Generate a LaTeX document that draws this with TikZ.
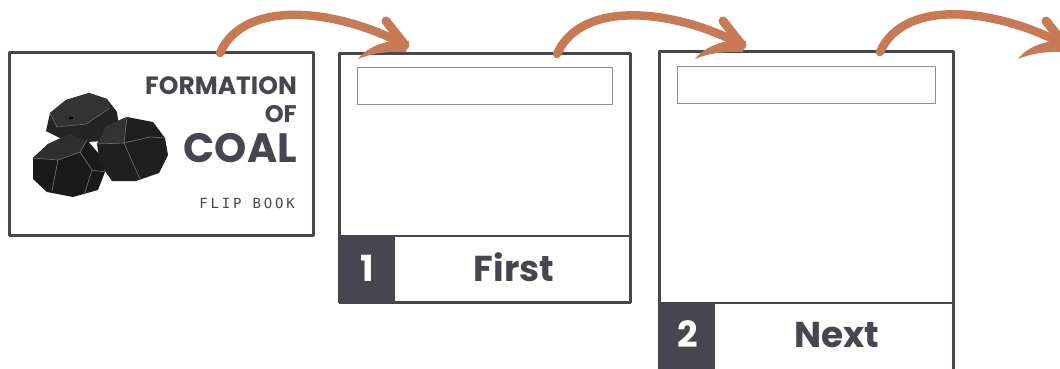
\documentclass[tikz,border=0pt]{standalone}
\usepackage{fontspec}
\setmainfont{Poppins}
\newfontfamily\flipmono{DejaVu Sans Mono}[LetterSpace=20]
\usetikzlibrary{calc}
\definecolor{slate}{HTML}{47454F}
\definecolor{clay}{HTML}{C87A55}
\definecolor{fieldgray}{HTML}{8E8D94}
\begin{document}
\begin{tikzpicture}[x=1pt, y=-1pt, line join=round, line cap=round,
	card/.style={draw=slate, line width=3pt, fill=white, anchor=north west, inner sep=0pt, outer sep=0pt},
	field/.style={draw=fieldgray, line width=1pt, anchor=north west, inner sep=0pt, outer sep=0pt},
	numbox/.style={fill=slate, anchor=north west, inner sep=0pt, outer sep=0pt, minimum width=56},
	digit/.style={text=white, anchor=base, inner sep=0pt, font=\fontsize{36}{36}\selectfont\bfseries},
	caption/.style={text=slate, anchor=base, inner sep=0pt, font=\fontsize{36}{36}\selectfont\bfseries},
	title/.style={text=slate, anchor=base east, inner sep=0pt},
	brush/.style={draw=clay, line width=8.5pt, line cap=round},
	lump/.style={draw=none}]
		%	\draw[color=gray!40,dashed] (0,0) grid[step=20] (1060,369);
		\useasboundingbox (0,0) rectangle (1060,369);
		\node[card, minimum width=304, minimum height=182] (cover) at (9,53) {};
		\node[card, minimum width=291, minimum height=248] (card1) at (339,54) {};
		\node[card, minimum width=294, minimum height=330] (card2) at (659,52) {};
		\node[field, minimum width=255, minimum height=36] (field1) at (357,68) {};
		\node[field, minimum width=258, minimum height=36] (field2) at (677,67) {};
		\node[numbox, minimum height=66] (num1) at (339,236) {};
		\node[numbox, minimum height=72] (num2) at (659,303) {};
		\draw[slate, line width=2.5pt] (num1.north west) -- (num1.north west -| card1.east);
		\draw[slate, line width=2.5pt] (num2.north west) -- (num2.north west -| card2.east);
		\node[digit] (d1) at (367,281) {1};
		\node[digit] (d2) at (688,347) {2};
		\node[caption] (first) at (514,281) {First};
		\node[caption] (next) at (837,347) {Next};
		\node[title, font=\fontsize{25}{25}\selectfont\bfseries] (formation) at (297,95) {FORMATION};
		\node[title, font=\fontsize{24}{24}\selectfont\bfseries] (of) at (297,122) {OF};
		\node[title, font=\fontsize{41}{41}\selectfont\bfseries] (coal) at (297,162) {COAL};
		\node[title, font=\fontsize{14}{14}\flipmono] (flip) at (295,208) {FLIP BOOK};
		\fill[lump, black!86] (46,131)--(50,113)--(66,100)--(89,93)--(107,99)--(117,112)--(119,127)--(104,141)--(70,143)--cycle;
		\fill[lump, black!80] (50,113)--(66,100)--(89,93)--(107,99)--(110,108)--(86,124)--(57,127)--cycle;
		\draw[black!62, line width=0.7pt] (50,113)--(57,127)--(86,124)--(110,108);
		\fill[black] (71,118) ellipse (2.2 and 1.2);
		\fill[lump, black!90] (33,158)--(48,144)--(70,134)--(87,140)--(99,154)--(105,172)--(98,190)--(73,197)--(47,192)--(33,179)--cycle;
		\fill[lump, black!82] (33,158)--(48,144)--(70,134)--(87,140)--(80,152)--(58,160)--cycle;
		\draw[black!58, line width=0.7pt] (33,158)--(58,160)--(80,152)--(87,140) (80,152)--(92,170)--(105,172) (92,170)--(84,195) (58,160)--(52,191);
		\fill[lump, black!88] (97,144)--(106,126)--(127,117)--(153,122)--(165,138)--(168,155)--(159,173)--(136,181)--(112,181)--(100,164)--cycle;
		\fill[lump, black!80] (97,144)--(106,126)--(127,117)--(124,143)--cycle;
		\draw[black!58, line width=0.7pt] (97,144)--(124,143)--(127,117) (124,143)--(140,179) (124,143)--(150,137)--(165,138);
		\coordinate (tail1) at ($(cover.north west)+(211,0)$);
		\coordinate (tail2) at ($(card1.north west)+(218,0)$);
		\coordinate (tail3) at ($(card2.north west)+(221,0)$);
		\coordinate (tip1) at ($(card1.north west)+(66,-9)$);
		\coordinate (tip2) at ($(card2.north west)+(83,-7)$);
		\coordinate (tip3) at (1065,45);
		\foreach \n in {1,2,3}{
			\draw[brush] (tail\n) .. controls +(25,-56) and +(-65,-35) .. (tip\n);
			\draw[brush, line width=9pt] (tip\n) -- +(-19,-24);
			\begin{scope}[shift={(tip\n)}]
				\fill[clay] (4,-4) -- (1,7) .. controls (-20,6) and (-35,9) .. (-47,14) .. controls (-37,1) and (-19,-4) .. (-5,-5) -- cycle;
			\end{scope}
		}
\end{tikzpicture}
\end{document}
